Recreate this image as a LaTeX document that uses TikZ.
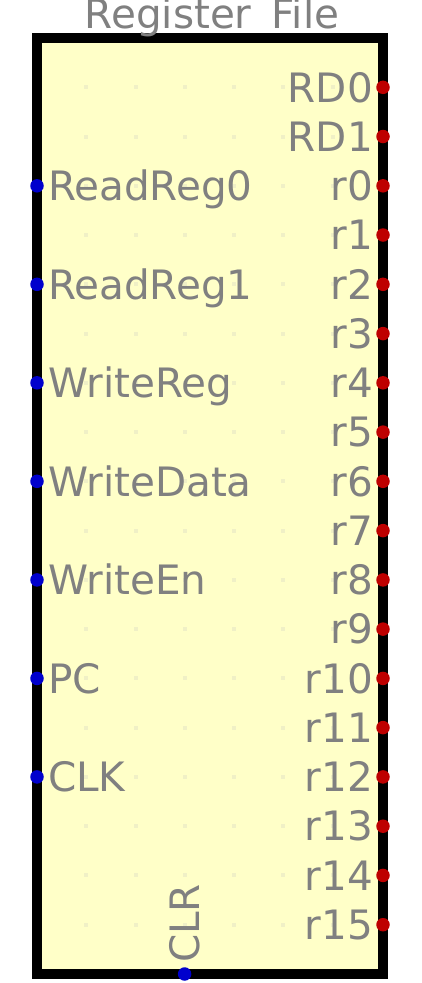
\documentclass[tikz,border=0pt]{standalone}
\usepackage{xcolor}
\usepackage{fontspec}
\usepackage{tikz}
\usetikzlibrary{positioning}
\newfontfamily\pinfont{DejaVu Sans}
\definecolor{boxfill}{RGB}{255,255,200}
\definecolor{griddot}{RGB}{240,240,198}
\definecolor{textgray}{RGB}{128,128,128}
\definecolor{pinblue}{RGB}{0,0,205}
\definecolor{pinred}{RGB}{190,0,0}

\begin{document}
\begin{tikzpicture}[x=1pt,y=-1pt,inner sep=0pt,
  regbox/.style={rectangle,draw=black,fill=boxfill,line width=10pt,minimum width=346pt,minimum height=936pt},
  inpin/.style={circle,fill=pinblue,minimum size=13.5pt},
  outpin/.style={circle,fill=pinred,minimum size=13.5pt},
  lbl/.style={text=textgray,font=\pinfont\fontsize{40.5}{40.5}\selectfont,text height=29.5pt,text depth=0pt}]
\useasboundingbox (0,0) rectangle (422,983);

\node[regbox] (RF) at (210,506) {};
\foreach \c in {1,...,6}
  \foreach \r in {1,...,18}
    \fill[griddot] (37+49.26*\c-2,38+49.26*\r-2) rectangle ++(4,4);

\node[lbl,anchor=base] (title) at (212,28) {Register \hspace{7pt}File};

% inputs
\node[inpin] (pReadReg0) at (37,185.8) {};
\node[inpin] (pReadReg1) at (37,284.3) {};
\node[inpin] (pWriteReg) at (37,382.8) {};
\node[inpin] (pWriteData) at (37,481.3) {};
\node[inpin] (pWriteEn) at (37,579.9) {};
\node[inpin] (pPC) at (37,678.4) {};
\node[inpin] (pCLK) at (37,776.9) {};
\node[inpin] (pCLR) at (184.6,974) {};

\node[lbl,right=4pt of pReadReg0] (tReadReg0) {ReadReg0};
\node[lbl,right=4pt of pReadReg1] (tReadReg1) {ReadReg1};
\node[lbl,right=4pt of pWriteReg] (tWriteReg) {WriteReg};
\node[lbl,right=4pt of pWriteData] (tWriteData) {WriteData};
\node[lbl,right=4pt of pWriteEn] (tWriteEn) {WriteEn};
\node[lbl,right=4pt of pPC] (tPC) {PC};
\node[lbl,right=4pt of pCLK] (tCLK) {CLK};
\node[lbl,rotate=90,anchor=west] (tCLR) at ([yshift=4pt]pCLR.north) {CLR};

% outputs
\node[outpin] (pRD0) at (383,87.3) {};
\node[outpin] (pRD1) at (383,136.5) {};
\node[outpin] (pr0) at (383,185.8) {};
\node[outpin] (pr1) at (383,235.0) {};
\node[outpin] (pr2) at (383,284.3) {};
\node[outpin] (pr3) at (383,333.6) {};
\node[outpin] (pr4) at (383,382.8) {};
\node[outpin] (pr5) at (383,432.1) {};
\node[outpin] (pr6) at (383,481.3) {};
\node[outpin] (pr7) at (383,530.6) {};
\node[outpin] (pr8) at (383,579.9) {};
\node[outpin] (pr9) at (383,629.1) {};
\node[outpin] (pr10) at (383,678.4) {};
\node[outpin] (pr11) at (383,727.6) {};
\node[outpin] (pr12) at (383,776.9) {};
\node[outpin] (pr13) at (383,826.2) {};
\node[outpin] (pr14) at (383,875.4) {};
\node[outpin] (pr15) at (383,924.7) {};

\node[lbl,left=3pt of pRD0] (tRD0) {RD0};
\node[lbl,left=3pt of pRD1] (tRD1) {RD1};
\node[lbl,left=3pt of pr0] (tr0) {r0};
\node[lbl,left=3pt of pr1] (tr1) {r1};
\node[lbl,left=3pt of pr2] (tr2) {r2};
\node[lbl,left=3pt of pr3] (tr3) {r3};
\node[lbl,left=3pt of pr4] (tr4) {r4};
\node[lbl,left=3pt of pr5] (tr5) {r5};
\node[lbl,left=3pt of pr6] (tr6) {r6};
\node[lbl,left=3pt of pr7] (tr7) {r7};
\node[lbl,left=3pt of pr8] (tr8) {r8};
\node[lbl,left=3pt of pr9] (tr9) {r9};
\node[lbl,left=3pt of pr10] (tr10) {r10};
\node[lbl,left=3pt of pr11] (tr11) {r11};
\node[lbl,left=3pt of pr12] (tr12) {r12};
\node[lbl,left=3pt of pr13] (tr13) {r13};
\node[lbl,left=3pt of pr14] (tr14) {r14};
\node[lbl,left=3pt of pr15] (tr15) {r15};

\end{tikzpicture}
\end{document}
